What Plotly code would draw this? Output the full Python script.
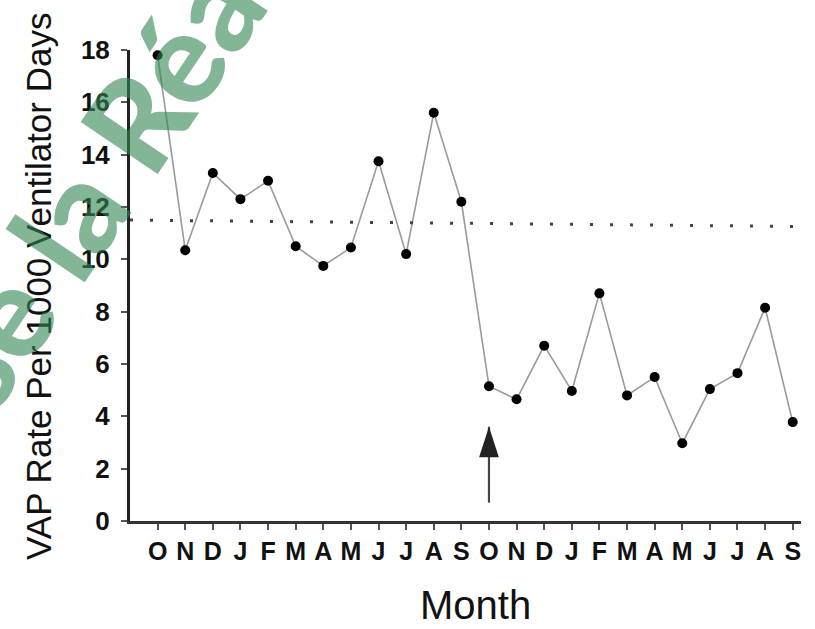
import plotly.graph_objects as go

months = ["O", "N", "D", "J", "F", "M", "A", "M", "J", "J", "A", "S",
          "O", "N", "D", "J", "F", "M", "A", "M", "J", "J", "A", "S"]
vap_rate = [17.8, 10.35, 13.3, 12.3, 13.0, 10.5, 9.75, 10.45, 13.75, 10.2, 15.6, 12.2,
            5.15, 4.65, 6.7, 4.97, 8.7, 4.8, 5.5, 2.97, 5.04, 5.65, 8.15, 3.78]
baseline_level = [11.5, 11.25]   # dotted reference line (left end, right end)
intervention_index = 12          # arrow at the second "O"
arrow_span = [0.7, 3.6]          # arrow tail, arrow tip (y values)
y_ticks = [0, 2, 4, 6, 8, 10, 12, 14, 16, 18]

x_idx = list(range(len(months)))
x_range = [-1, 23.3]
wm_color = "rgb(50,133,83)"

fig = go.Figure()
fig.add_trace(go.Scatter(
    x=x_idx, y=vap_rate, mode="lines+markers",
    line=dict(color="#9a9a9a", width=1.6),
    marker=dict(color="black", size=10),
    cliponaxis=False, showlegend=False, hoverinfo="skip",
))

# intervention arrow: shaft + narrow head
fig.add_trace(go.Scatter(
    x=[intervention_index, intervention_index], y=arrow_span, mode="lines",
    line=dict(color="#444444", width=2.2), showlegend=False, hoverinfo="skip",
))
fig.add_trace(go.Scatter(
    x=[intervention_index], y=[arrow_span[1]], mode="markers",
    marker=dict(symbol="arrow", size=32, color="#222222", line=dict(width=0)),
    showlegend=False, hoverinfo="skip",
))

fig.add_shape(type="line", xref="x", yref="y",
              x0=x_range[0], x1=x_range[1] + 0.5,
              y0=baseline_level[0], y1=baseline_level[1],
              line=dict(color="#444444", width=3, dash="3px,17px"))

# axis titles
fig.add_annotation(text="VAP Rate Per 1000 Ventilator Days", textangle=-90,
                   xref="paper", yref="paper", x=-0.1356, y=0.497,
                   xanchor="center", yanchor="middle", showarrow=False,
                   font=dict(family="Liberation Sans, Arial", size=35, color="#111111"))
fig.add_annotation(text="Month", xref="paper", yref="paper", x=0.5156, y=-0.2293,
                   xanchor="center", yanchor="bottom", showarrow=False,
                   font=dict(family="Liberation Sans, Arial", size=40, color="#111111"))

# watermark
fig.add_annotation(text="Use la Réa", textangle=-56,
                   xref="paper", yref="paper",
                   x=(65 - 130) / 671, y=(521 - 222) / 471,
                   xanchor="center", yanchor="middle", showarrow=False,
                   opacity=0.6,
                   font=dict(family="Lato, Liberation Sans, Arial", size=128,
                             color=wm_color, weight=900))

fig.update_layout(
    width=815, height=629,
    margin=dict(l=130, r=14, t=50, b=108, autoexpand=False),
    paper_bgcolor="white", plot_bgcolor="white",
    font=dict(family="Liberation Sans, Arial", color="#111111"),
    xaxis=dict(range=x_range, tickvals=x_idx, ticktext=months, automargin=False,
               showgrid=False, zeroline=False,
               showline=True, linecolor="#333333", linewidth=3,
               ticks="outside", ticklen=6, tickwidth=2, tickcolor="#555555",
               ticklabelstandoff=0,
               tickfont=dict(family="Liberation Sans, Arial", size=25, color="#111111",
                             weight="bold")),
    yaxis=dict(range=[0, 18], tickvals=y_ticks, automargin=False,
               showgrid=False, zeroline=False,
               showline=True, linecolor="#222222", linewidth=3,
               ticks="outside", ticklen=6, tickwidth=2, tickcolor="#555555",
               ticklabelstandoff=6,
               tickfont=dict(family="Liberation Sans, Arial", size=26, color="#111111",
                             weight="bold")),
)

fig.write_html("out.html", config={"displayModeBar": False},
               post_script="document.body.style.margin='0';document.body.style.overflow='hidden';")
